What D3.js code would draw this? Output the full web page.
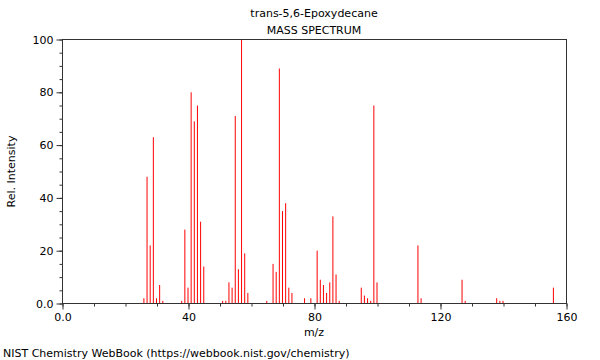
<!DOCTYPE html>
<html>
<head>
<meta charset="utf-8">
<script src="https://cdn.jsdelivr.net/npm/d3@7"></script>
<style>
  body { margin: 0; background: #fff; }
  svg { font-family: "DejaVu Sans", sans-serif; }
  .axis path { display: none; }
  .axis line { stroke: #333; }
  .axis text { font-size: 11px; fill: #000; font-family: "DejaVu Sans", sans-serif; }
</style>
</head>
<body>
<svg width="600" height="360"></svg>
<script>
const title = 'trans-5,6-Epoxydecane';
const subtitle = 'MASS SPECTRUM';
const footer = 'NIST Chemistry WebBook (https://webbook.nist.gov/chemistry)';

// peaks
const mz = [26, 27, 28, 29, 30, 31, 32,
    38, 39, 40, 41, 42, 43, 44, 45,
    51, 52, 53, 54, 55, 56, 57, 58, 59,
    65, 67, 68, 69, 70, 71, 72, 73,
    77, 79, 81, 82, 83, 84, 85, 86, 87, 88,
    95, 96, 97, 98, 99, 100,
    113, 114, 127, 128, 138, 139, 140, 156];
const intensity = [2, 48, 22, 63, 2, 7, 1,
    1, 28, 6, 80, 69, 75, 31, 14,
    1, 1, 8, 6, 71, 13, 100, 19, 4,
    1, 15, 12, 89, 35, 38, 6, 4,
    2, 2, 20, 9, 7, 4, 8, 33, 11, 1,
    6, 3, 2, 1, 75, 8,
    22, 2, 9, 1, 2, 1, 1, 6];

const xMajor = [0, 40, 80, 120, 160];
const xLabels = ['0.0', '40', '80', '120', '160'];
const yMajor = [0, 20, 40, 60, 80, 100];
const yLabels = ['0.0', '20', '40', '60', '80', '100'];

const svg = d3.select('svg');

let x = d3.scaleLinear().domain([0, 160]).range([62, 566]);
let y = d3.scaleLinear().domain([0, 100]).range([303.5, 39.5]);

// spectrum lines
svg.append('g')
    .selectAll('line')
    .data(mz)
    .enter()
    .append('line')
        .attr('x1', d => x(d))
        .attr('x2', d => x(d))
        .attr('y1', y(0))
        .attr('y2', (d, i) => y(intensity[i]))
        .attr('stroke', '#ff0000')
        .attr('stroke-width', 1);

// frame
svg.append('rect')
    .attr('x', x(0) + 0.5)
    .attr('y', y(100))
    .attr('width', x(160) - x(0))
    .attr('height', y(0) - y(100))
    .attr('fill', 'none')
    .attr('stroke', '#333');

// x axis, minor then major
svg.append('g')
    .attr('class', 'axis')
    .attr('transform', `translate(0.5,${y(0)})`)
    .call(d3.axisBottom(x).tickValues(d3.range(0, 161, 10)).tickSize(3).tickFormat(''));

svg.append('g')
    .attr('class', 'axis')
    .attr('transform', `translate(0.5,${y(0)})`)
    .call(d3.axisBottom(x).tickValues(xMajor).tickSize(6).tickPadding(4)
        .tickFormat((d, i) => xLabels[i]));

// y axis
svg.append('g')
    .attr('class', 'axis')
    .attr('transform', `translate(${x(0) + 0.5},0)`)
    .call(d3.axisLeft(y).tickValues(d3.range(0, 101, 5)).tickSize(3).tickFormat(''));

svg.append('g')
    .attr('class', 'axis')
    .attr('transform', `translate(${x(0) + 0.5},0)`)
    .call(d3.axisLeft(y).tickValues(yMajor).tickSize(6).tickPadding(3)
        .tickFormat((d, i) => yLabels[i]));

// texts
let midX = (x(0) + x(160)) / 2;

svg.append('text')
    .attr('x', midX).attr('y', 17)
    .attr('text-anchor', 'middle')
    .attr('font-size', '11px')
    .text(title);

svg.append('text')
    .attr('x', midX).attr('y', 34)
    .attr('text-anchor', 'middle')
    .attr('font-size', '11px')
    .text(subtitle);

svg.append('text')
    .attr('x', midX).attr('y', 336)
    .attr('text-anchor', 'middle')
    .attr('font-size', '11px')
    .text('m/z');

svg.append('text')
    .attr('transform', `translate(15,${(y(0) + y(100)) / 2}) rotate(-90)`)
    .attr('text-anchor', 'middle')
    .attr('font-size', '11px')
    .text('Rel. Intensity');

svg.append('text')
    .attr('x', 3).attr('y', 357)
    .attr('font-size', '11px')
    .text(footer);
</script>
</body>
</html>
